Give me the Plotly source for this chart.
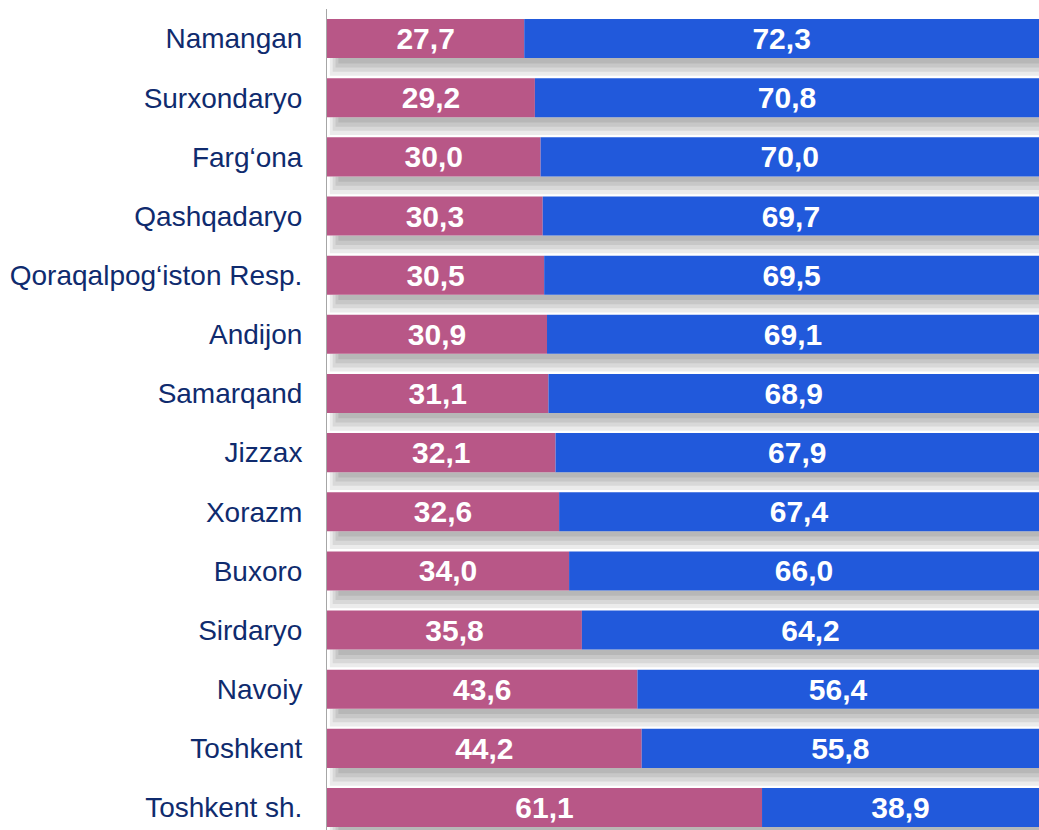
import plotly.graph_objects as go

regions = ["Namangan", "Surxondaryo", "Farg‘ona", "Qashqadaryo", "Qoraqalpog‘iston Resp.",
           "Andijon", "Samarqand", "Jizzax", "Xorazm", "Buxoro", "Sirdaryo", "Navoiy",
           "Toshkent", "Toshkent sh."]
pink_vals = [27.7, 29.2, 30.0, 30.3, 30.5, 30.9, 31.1, 32.1, 32.6, 34.0, 35.8, 43.6, 44.2, 61.1]
blue_vals = [72.3, 70.8, 70.0, 69.7, 69.5, 69.1, 68.9, 67.9, 67.4, 66.0, 64.2, 56.4, 55.8, 38.9]

PINK = "#B85787"
BLUE = "#2159DB"
NAVY = "#0F2B6E"

def fmt(v):
    return f"{v:.1f}".replace(".", ",")

totals = [p + b for p, b in zip(pink_vals, blue_vals)]

fig = go.Figure()

# soft shadows under bars (layered to imitate a blur)
for base, wd in [(0.4, 0.30), (0.8, 0.23), (1.2, 0.16), (1.6, 0.09)]:
    fig.add_trace(go.Bar(
        y=regions, x=[t - base for t in totals], base=base, orientation="h",
        offset=0.33, width=wd, marker=dict(color="rgba(0,0,0,0.08)", line=dict(width=0)),
        hoverinfo="skip", showlegend=False))

fig.add_trace(go.Bar(
    y=regions, x=pink_vals, orientation="h", width=0.66,
    marker=dict(color=PINK, line=dict(width=0)),
    text=[fmt(v) for v in pink_vals], textposition="inside", insidetextanchor="middle",
    textfont=dict(color="white", size=30, family="Arial, Liberation Sans"),
    texttemplate="<b>%{text}</b>", showlegend=False))

fig.add_trace(go.Bar(
    y=regions, x=blue_vals, base=pink_vals, orientation="h", width=0.66,
    marker=dict(color=BLUE, line=dict(width=0)),
    text=[fmt(v) for v in blue_vals], textposition="inside", insidetextanchor="middle",
    textfont=dict(color="white", size=30, family="Arial, Liberation Sans"),
    texttemplate="<b>%{text}</b>", showlegend=False))

fig.update_layout(
    barmode="overlay",
    width=1039, height=830,
    margin=dict(l=327, r=0, t=9, b=0, autoexpand=False),
    paper_bgcolor="white", plot_bgcolor="white",
    uniformtext=dict(mode="show", minsize=30),
    xaxis=dict(range=[0, 100], visible=False, fixedrange=True),
    yaxis=dict(range=[13.38, -0.5], autorange=False, showline=True, linecolor="#A6A6A6",
               linewidth=1, showgrid=False, zeroline=False, ticks="",
               ticklabelstandoff=18, automargin=False, fixedrange=True,
               tickfont=dict(color=NAVY, size=28, family="Arial, Liberation Sans")),
)

fig.write_html("out.html", config={"displayModeBar": False},
               post_script="document.body.style.margin='0';document.body.style.overflow='hidden';")
